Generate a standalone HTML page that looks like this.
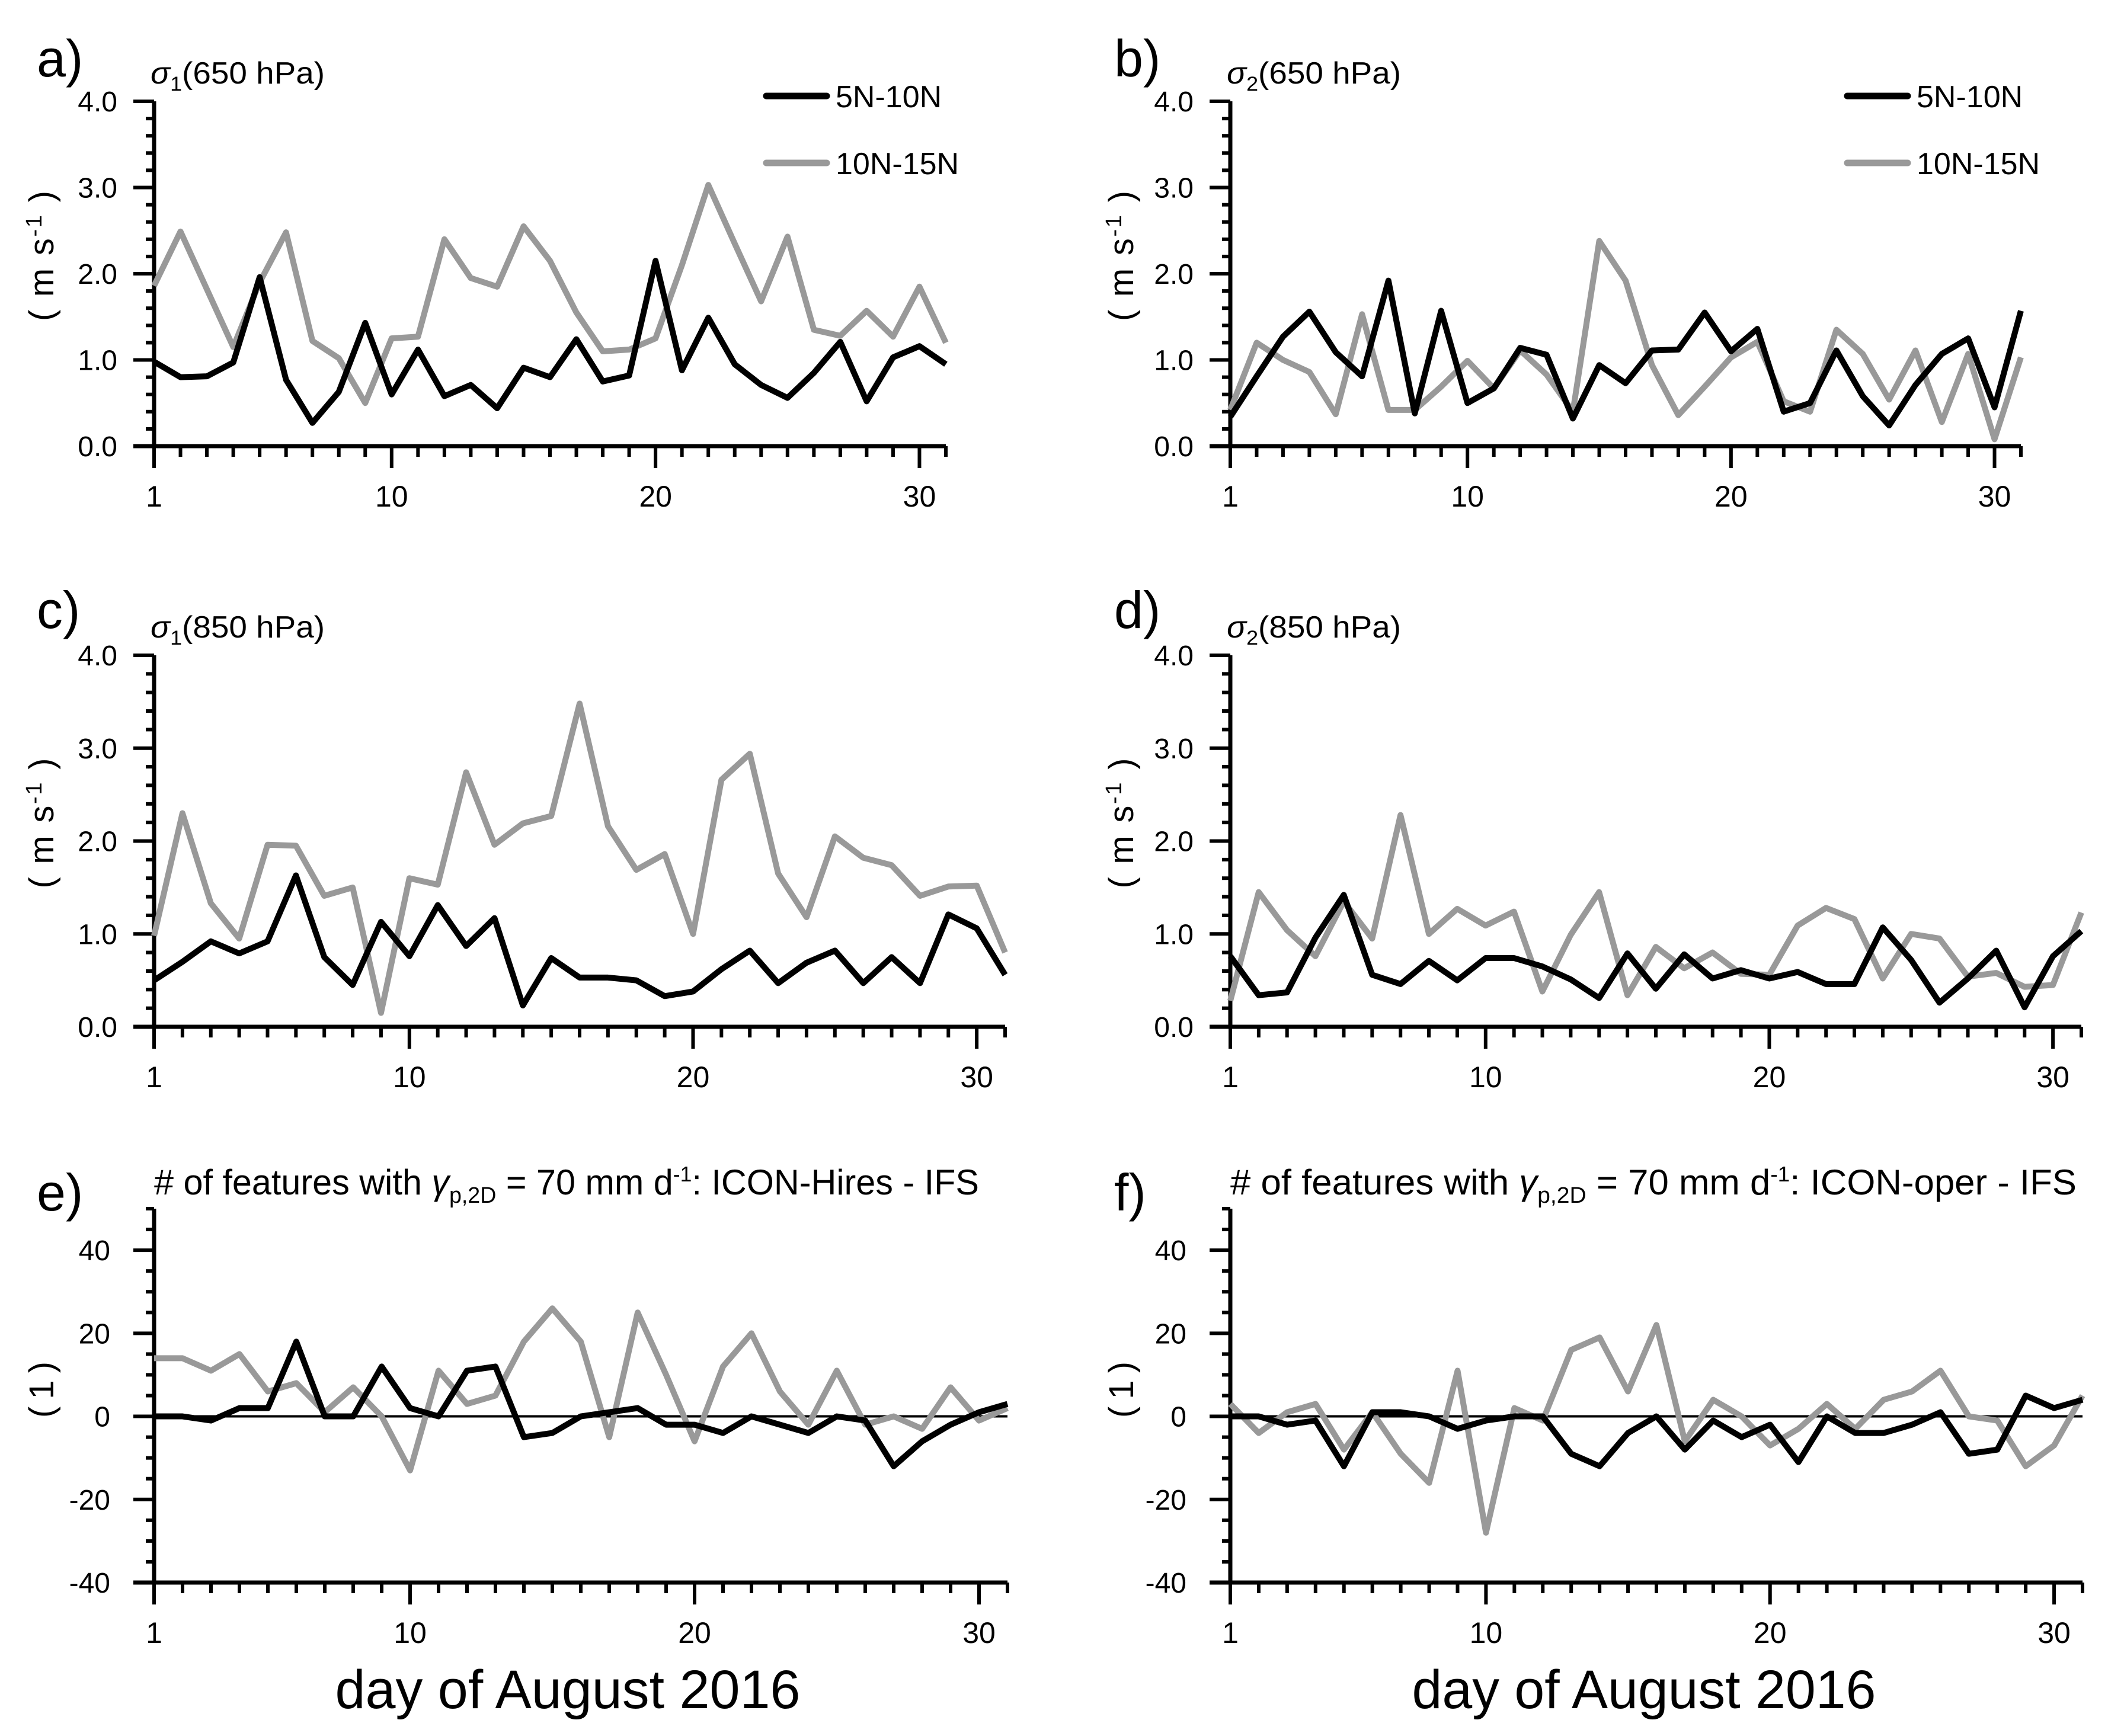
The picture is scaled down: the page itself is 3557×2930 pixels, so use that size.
<!DOCTYPE html>
<html><head><meta charset="utf-8"><style>
html,body{margin:0;padding:0;background:#fff;}
svg{display:block;font-family:"Liberation Sans",sans-serif;}
</style></head><body>
<svg id="fig" width="3557" height="2930" viewBox="0 0 3557 2930" xmlns="http://www.w3.org/2000/svg">
<rect width="3557" height="2930" fill="#fff"/>
<text x="958" y="2883" font-size="92" text-anchor="middle" textLength="785" lengthAdjust="spacingAndGlyphs">day of August 2016</text>
<text x="2774" y="2883" font-size="92" text-anchor="middle" textLength="783" lengthAdjust="spacingAndGlyphs">day of August 2016</text>
</svg>
<script>
const days = Array.from({length:31},(_,i)=>i+1);
const aBlack = [0.98,0.80,0.81,0.97,1.96,0.77,0.27,0.63,1.43,0.60,1.12,0.58,0.71,0.44,0.91,0.80,1.24,0.75,0.82,2.15,0.88,1.49,0.95,0.71,0.56,0.85,1.21,0.52,1.03,1.16,0.95];
const aGray  = [1.86,2.49,1.82,1.15,1.90,2.48,1.22,1.02,0.50,1.25,1.27,2.40,1.95,1.85,2.55,2.15,1.55,1.10,1.12,1.25,2.10,3.03,2.35,1.68,2.43,1.35,1.28,1.57,1.27,1.85,1.20];
const bBlack = [0.34,0.81,1.27,1.56,1.09,0.81,1.92,0.38,1.57,0.50,0.67,1.14,1.06,0.32,0.94,0.73,1.11,1.12,1.55,1.10,1.36,0.40,0.50,1.11,0.58,0.24,0.71,1.07,1.25,0.45,1.57];
const bGray  = [0.42,1.20,1.00,0.86,0.37,1.53,0.42,0.42,0.69,0.99,0.67,1.11,0.83,0.40,2.38,1.92,0.94,0.36,0.69,1.03,1.21,0.52,0.40,1.35,1.07,0.54,1.11,0.28,1.07,0.08,1.03];
const cBlack = [0.50,0.70,0.92,0.79,0.92,1.63,0.75,0.45,1.13,0.76,1.31,0.87,1.17,0.23,0.74,0.53,0.53,0.50,0.33,0.38,0.62,0.82,0.47,0.69,0.82,0.47,0.75,0.47,1.21,1.06,0.56];
const cGray  = [0.98,2.30,1.33,0.95,1.96,1.95,1.41,1.50,0.15,1.60,1.53,2.74,1.96,2.19,2.27,3.48,2.16,1.69,1.86,1.00,2.66,2.94,1.65,1.18,2.05,1.82,1.74,1.41,1.51,1.52,0.80];
const dBlack = [0.76,0.34,0.37,0.96,1.42,0.56,0.46,0.71,0.50,0.74,0.74,0.65,0.51,0.31,0.79,0.41,0.78,0.52,0.61,0.52,0.59,0.46,0.46,1.07,0.72,0.26,0.52,0.82,0.21,0.76,1.03];
const dGray  = [0.28,1.45,1.04,0.76,1.35,0.95,2.28,1.00,1.27,1.09,1.24,0.38,0.99,1.45,0.34,0.86,0.63,0.80,0.57,0.56,1.09,1.28,1.16,0.52,1.00,0.95,0.54,0.58,0.43,0.45,1.23];
const eBlack = [0,0,-1,2,2,18,0,0,12,2,0,11,12,-5,-4,0,1,2,-2,-2,-4,0,-2,-4,0,-1,-12,-6,-2,1,3];
const eGray  = [14,14,11,15,6,8,1,7,0,-13,11,3,5,18,26,18,-5,25,10,-6,12,20,6,-2,11,-2,0,-3,7,-1,2];
const fBlack = [0,0,-2,-1,-12,1,1,0,-3,-1,0,0,-9,-12,-4,0,-8,-1,-5,-2,-11,0,-4,-4,-2,1,-9,-8,5,2,4];
const fGray  = [3,-4,1,3,-8,1,-9,-16,11,-28,2,-1,16,19,6,22,-6,4,0,-7,-3,3,-3,4,6,11,0,-1,-12,-7,5];
const sigmaTicks = ["0.0","1.0","2.0","3.0","4.0"];
const countTicks = ["-40","-20","0","20","40"];
const xTickLabels = ["1","10","20","30"];

const NS="http://www.w3.org/2000/svg";
const svg=document.getElementById('fig');
function mk(tag,attrs,parent){const e=document.createElementNS(NS,tag);for(const k in attrs)e.setAttribute(k,attrs[k]);(parent||svg).appendChild(e);return e;}

const panels=[
 {id:'a',x0:260,x1:1596,yTop:171,yBot:753,vmin:0,vmax:4,ticks:sigmaTicks,minor:0.2,major:1,black:aBlack,gray:aGray,lx:62,ly:129,sub:'1',lev:'650',legend:true,ytl:'ms'},
 {id:'b',x0:2076,x1:3410,yTop:171,yBot:753,vmin:0,vmax:4,ticks:sigmaTicks,minor:0.2,major:1,black:bBlack,gray:bGray,lx:1880,ly:129,sub:'2',lev:'650',legend:true,ytl:'ms'},
 {id:'c',x0:260,x1:1696,yTop:1106,yBot:1733,vmin:0,vmax:4,ticks:sigmaTicks,minor:0.2,major:1,black:cBlack,gray:cGray,lx:62,ly:1060,sub:'1',lev:'850',ytl:'ms'},
 {id:'d',x0:2076,x1:3512,yTop:1106,yBot:1733,vmin:0,vmax:4,ticks:sigmaTicks,minor:0.2,major:1,black:dBlack,gray:dGray,lx:1880,ly:1060,sub:'2',lev:'850',ytl:'ms'},
 {id:'e',x0:260,x1:1700,yTop:2040,yBot:2671,vmin:-40,vmax:50,ticks:countTicks,minor:5,major:20,black:eBlack,gray:eGray,lx:62,ly:2043,model:'ICON-Hires',zero:true,ytl:'1'},
 {id:'f',x0:2076,x1:3514,yTop:2040,yBot:2671,vmin:-40,vmax:50,ticks:countTicks,minor:5,major:20,black:fBlack,gray:fGray,lx:1880,ly:2043,model:'ICON-oper',zero:true,ytl:'1'}
];

panels.forEach(p=>{
  const g=mk('g',{});
  
  
  const xs=d=>p.x0+(d-1)*(p.x1-p.x0)/30;
  const ys=v=>p.yBot-(v-p.vmin)/(p.vmax-p.vmin)*(p.yBot-p.yTop);
  const lab=mk('text',{x:p.lx,y:p.ly,'font-size':88},g);lab.textContent=p.id+')';
  
  
  let t;
  if(!p.model){
    t=mk('text',{x:p.x0-6,y:p.yTop-30,'font-size':52,textLength:294,lengthAdjust:'spacingAndGlyphs'},g);
    const s1=mk('tspan',{'font-style':'italic'},t);s1.textContent='σ';
    const s2=mk('tspan',{'font-size':34,dy:12},t);s2.textContent=p.sub;
    const s3=mk('tspan',{dy:-12},t);s3.textContent='('+p.lev+' hPa)';
  } else {
    t=mk('text',{x:p.x0,y:2016,'font-size':60,textLength:(p.id==='e'?1392:1428),lengthAdjust:'spacingAndGlyphs'},g);
    const a=mk('tspan',{},t);a.textContent='# of features with ';
    const b=mk('tspan',{'font-style':'italic'},t);b.textContent='γ';
    const c=mk('tspan',{'font-size':38,dy:14},t);c.textContent='p,2D';
    const d=mk('tspan',{dy:-14},t);d.textContent=' = 70 mm d';
    const e=mk('tspan',{'font-size':36,dy:-22},t);e.textContent='-1';
    const f=mk('tspan',{dy:22},t);f.textContent=': '+p.model+' - IFS';
  }
  
  
  const yc=(p.yTop+p.yBot)/2 + (p.ytl==='ms'? -30:-10);
  const yx=p.x0>1000?1892:70;
  const yt=mk('text',{x:yx,y:yc,'font-size':58,'text-anchor':'middle',transform:`rotate(-90 ${yx} ${yc})`,dy:20},g);
  if(p.ytl==='ms'){
    yt.setAttribute('textLength','220');
    const a=mk('tspan',{},yt);a.textContent='( m  s';
    const b=mk('tspan',{'font-size':38,dy:-20},yt);b.textContent='-1';
    const c=mk('tspan',{dy:20},yt);c.textContent=' )';
  } else { yt.setAttribute('textLength','95'); yt.textContent='( 1 )'; }
  
  
  const ax=mk('line',{x1:p.x0,y1:p.yTop,x2:p.x0,y2:p.yBot,stroke:'#000','stroke-width':7},g);
  
  
  const bx=mk('line',{x1:p.x0-35,y1:p.yBot,x2:p.x1,y2:p.yBot,stroke:'#000','stroke-width':7},g);
  
  
  for(let v=p.vmin; v<=p.vmax+1e-9; v+=p.minor){
    const vv=Math.round(v*100)/100;
    const isMaj=Math.abs(vv/p.major-Math.round(vv/p.major))<1e-6 && vv<=p.vmax-(p.zero?10:0)+1e-9;
    const y=ys(vv);
    mk('line',{x1:p.x0-(isMaj?35:14),y1:y,x2:p.x0,y2:y,stroke:'#000','stroke-width':6},g);
  }
  p.ticks.forEach(lbl=>{
    const v=parseFloat(lbl);
    const tx=mk('text',{x:p.x0-(p.zero?74:62),y:ys(v)+17,'font-size':48,'text-anchor':'end'},g);
    tx.textContent=lbl;
    
    
  });
  days.forEach(d=>{
    const maj=(d===1||d%10===0);
    mk('line',{x1:xs(d),y1:p.yBot,x2:xs(d),y2:p.yBot+(maj?37:18),stroke:'#000','stroke-width':6},g);
  });
  xTickLabels.forEach(lbl=>{
    const tx=mk('text',{x:xs(parseInt(lbl)),y:p.yBot+102,'font-size':50,'text-anchor':'middle'},g);
    tx.textContent=lbl;
    
    
  });
  if(p.zero){
    const z=mk('line',{x1:p.x0,y1:ys(0),x2:p.x1,y2:ys(0),stroke:'#000','stroke-width':4},g);
    
    
  }
  [[p.gray,'#999999','10N-15N'],[p.black,'#000000','5N-10N']].forEach(([arr,col,nm])=>{
    const pts=arr.map((v,i)=>xs(days[i])+','+ys(v)).join(' ');
    const pl=mk('polyline',{points:pts,fill:'none',stroke:col,'stroke-width':10,'stroke-linejoin':'round'},g);
    
    
  });
  if(p.legend){
    const lx=p.id==='a'?1293:3117;
    [[162,'#000','5N-10N'],[275,'#999','10N-15N']].forEach(([y,c,nm])=>{
      const lg=mk('g',{},g);
      
      
      mk('line',{x1:lx,y1:y,x2:lx+102,y2:y,stroke:c,'stroke-width':11,'stroke-linecap':'round'},lg);
      const tx=mk('text',{x:lx+117,y:y+19,'font-size':52},lg);tx.textContent=nm;
    });
  }
});
</script>
</body></html>
